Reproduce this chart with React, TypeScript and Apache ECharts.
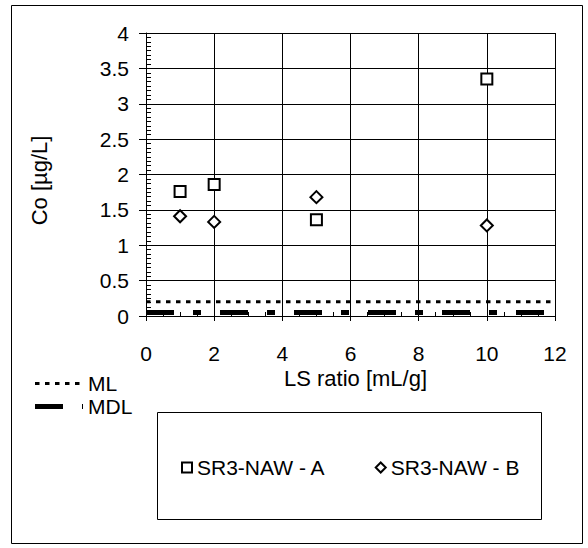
import React, { useEffect, useRef } from "react";
import * as echarts from "echarts";

const lsRatioA = [1, 2, 5, 10];
const coA = [1.76, 1.86, 1.36, 3.35];
const lsRatioB = [1, 2, 5, 10];
const coB = [1.41, 1.33, 1.68, 1.28];
const mlValue = 0.2;
const mdlValue = 0.05;
const xRange = [0, 12];
const seriesNames = ["SR3-NAW - A", "SR3-NAW - B"];
const limitNames = ["ML", "MDL"];

const FONT = "'Liberation Sans', Arial, sans-serif";
const ML_DASH = [4.5, 5.5];
const MDL_DASH = [28, 19, 8, 19];

export default function App() {
  const ref = useRef<HTMLDivElement>(null);
  useEffect(() => {
    if (!ref.current) return;
    const chart = echarts.init(ref.current, undefined, { renderer: "svg" });
    const option: any = {
      animation: false,
      backgroundColor: "#fff",
      textStyle: { fontFamily: FONT, color: "#000" },
      grid: { left: 146, top: 33, width: 409, height: 283, containLabel: false, outerBoundsMode: "none" },
      xAxis: [
        {
          type: "value",
          min: xRange[0],
          max: xRange[1],
          interval: 2,
          position: "bottom",
          axisLine: { show: true, onZero: false, lineStyle: { color: "#000", width: 1 } },
          axisTick: { show: true, inside: false, length: 5, lineStyle: { color: "#000" } },
          axisLabel: { show: true, color: "#000", fontSize: 21, fontFamily: FONT, margin: 27 },
          splitLine: { show: true, lineStyle: { color: "#000", width: 1 } },
          name: "LS ratio [mL/g]",
          nameLocation: "middle",
          nameGap: 51,
          nameMoveOverlap: false,
          nameTextStyle: { color: "#000", fontSize: 22, fontFamily: FONT, padding: [0, 0, 0, 10] },
        },
        {
          type: "value",
          min: xRange[0],
          max: xRange[1],
          interval: 2,
          position: "bottom",
          axisLine: { show: false, onZero: false },
          axisTick: { show: false, inside: true },
          axisLabel: { show: false },
          splitLine: { show: false },
          minorTick: { show: true, splitNumber: 4, length: 4, lineStyle: { color: "#000" } },
        },
      ],
      yAxis: [
        {
          type: "value",
          min: 0,
          max: 4,
          interval: 0.5,
          position: "left",
          axisLine: { show: true, onZero: false, lineStyle: { color: "#000", width: 1 } },
          axisTick: { show: true, inside: false, length: 7, lineStyle: { color: "#000" } },
          axisLabel: { color: "#000", fontSize: 21, fontFamily: FONT, margin: 17 },
          splitLine: { show: true, lineStyle: { color: "#000", width: 1 } },
          name: "Co [µg/L]",
          nameLocation: "middle",
          nameGap: 96,
          nameRotate: 90,
          nameMoveOverlap: false,
          nameTextStyle: { color: "#000", fontSize: 22, fontFamily: FONT, padding: [0, 12, 0, 0] },
        },
        {
          type: "value",
          min: 0,
          max: 4,
          interval: 0.5,
          position: "left",
          axisLine: { show: false, onZero: false },
          axisTick: { show: false, inside: true },
          axisLabel: { show: false },
          splitLine: { show: false },
          minorTick: { show: true, splitNumber: 8, length: 5, lineStyle: { color: "#000" } },
        },
      ],
      legend: [
        {
          data: [
            { name: seriesNames[0], icon: "rect" },
            { name: seriesNames[1], icon: "diamond" },
          ],
          orient: "horizontal",
          left: 176,
          top: 452,
          padding: 5,
          itemWidth: 10,
          itemHeight: 10,
          itemGap: 49,
          itemStyle: { color: "#fff", borderColor: "#000", borderWidth: 2 },
          textStyle: { color: "#000", fontSize: 21, fontFamily: FONT },
        },
      ],
      graphic: [
        {
          type: "rect",
          shape: { x: 11.5, y: 5.5, width: 571, height: 538 },
          style: { fill: "none", stroke: "#000", lineWidth: 1 },
          z: -1,
        },
        {
          type: "rect",
          shape: { x: 157.5, y: 412.5, width: 384, height: 107 },
          style: { fill: "none", stroke: "#000", lineWidth: 1 },
          z: -1,
        },
        {
          type: "line",
          shape: { x1: 35, y1: 383.5, x2: 83, y2: 383.5 },
          style: { stroke: "#000", lineWidth: 3, lineDash: ML_DASH, lineCap: "butt" },
        },
        {
          type: "line",
          shape: { x1: 35, y1: 406.5, x2: 83, y2: 406.5 },
          style: { stroke: "#000", lineWidth: 5, lineDash: MDL_DASH, lineCap: "butt" },
        },
        {
          type: "text",
          x: 88,
          y: 383.5,
          style: { text: limitNames[0], fill: "#000", font: `21px ${FONT}`, verticalAlign: "middle", align: "left" },
        },
        {
          type: "text",
          x: 88,
          y: 406.5,
          style: { text: limitNames[1], fill: "#000", font: `21px ${FONT}`, verticalAlign: "middle", align: "left" },
        },
      ],
      series: [
        {
          name: limitNames[0],
          type: "line",
          data: [
            [xRange[0], mlValue],
            [xRange[1], mlValue],
          ],
          symbol: "none",
          lineStyle: { color: "#000", width: 3, type: ML_DASH, cap: "butt" },
          itemStyle: { color: "#000" },
          z: 3,
        },
        {
          name: limitNames[1],
          type: "line",
          data: [
            [xRange[0], mdlValue],
            [xRange[1], mdlValue],
          ],
          symbol: "none",
          lineStyle: { color: "#000", width: 5, type: MDL_DASH, cap: "butt" },
          itemStyle: { color: "#000" },
          z: 3,
        },
        {
          name: seriesNames[0],
          type: "scatter",
          data: lsRatioA.map((x, i) => [x, coA[i]]),
          symbol: "rect",
          symbolSize: 11,
          itemStyle: { color: "#fff", borderColor: "#000", borderWidth: 2, opacity: 1 },
          z: 5,
        },
        {
          name: seriesNames[1],
          type: "scatter",
          data: lsRatioB.map((x, i) => [x, coB[i]]),
          symbol: "diamond",
          symbolSize: 12,
          itemStyle: { color: "#fff", borderColor: "#000", borderWidth: 2, opacity: 1 },
          z: 5,
        },
      ],
    };
    chart.setOption(option);
    return () => chart.dispose();
  }, []);
  return (
    <div
      ref={ref}
      style={{ position: "fixed", left: 0, top: 0, width: 588, height: 548, background: "#fff" }}
    />
  );
}
